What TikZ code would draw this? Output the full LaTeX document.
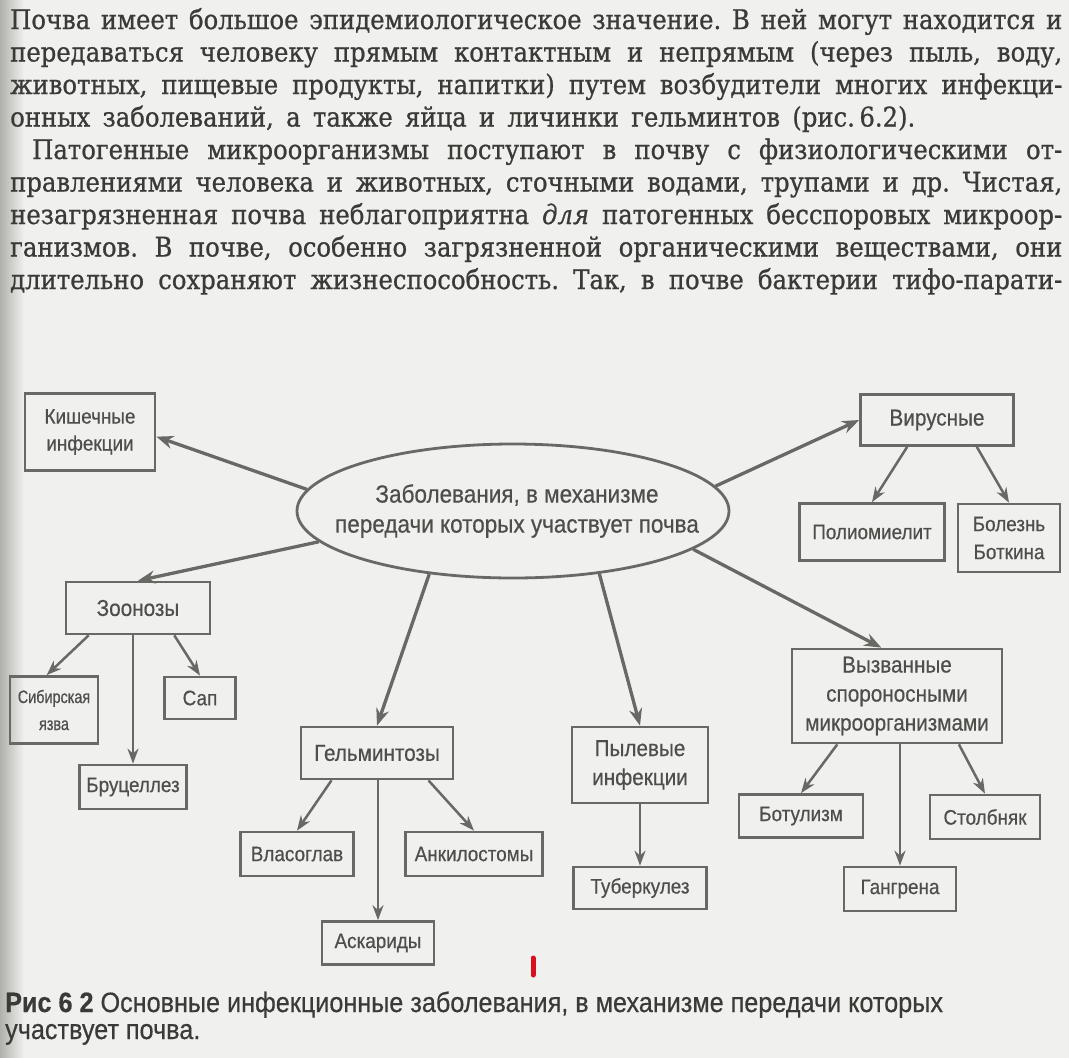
\documentclass[tikz,border=0pt]{standalone}
\usepackage{fontspec}
\setmainfont{DejaVu Serif}[FakeStretch=0.9,FakeBold=0.8]
\setsansfont{Liberation Sans}[FakeStretch=0.9,FakeBold=0.5]
\newfontfamily\nsans{Liberation Sans}[FakeStretch=0.8,FakeBold=0.5]
\usetikzlibrary{arrows.meta,shapes.geometric,calc}
\definecolor{bg}{HTML}{F0F0EE}
\definecolor{edge}{HTML}{B0B0AC}
\definecolor{ink}{HTML}{3A3A37}
\definecolor{dg}{HTML}{4E4E4A}
\definecolor{ln}{HTML}{686864}
\definecolor{redmark}{HTML}{D8101E}
\frenchspacing
\begin{document}
\begin{tikzpicture}[x=1pt,y=-1pt,
  box/.style={draw=ln,line width=2.7pt,inner sep=0pt,align=center,
    font=\sffamily\fontsize{21}{28}\selectfont,text=dg},
  bigbox/.style={box,font=\sffamily\fontsize{23}{29}\selectfont},
  arr/.style={draw=ln,line width=2.5pt,-{Stealth[length=15pt,width=11pt]}},
  arrb/.style={draw=ln,line width=3.3pt,-{Stealth[length=17pt,width=13pt]}},
  pline/.style={anchor=base west,inner sep=0pt,font=\fontsize{27}{30}\selectfont,text=ink}]
\fill[bg] (0,0) rectangle (1069,1058);
\shade[left color=edge,right color=bg] (0,0) rectangle (24,1058);
\useasboundingbox (0,0) rectangle (1069,1058);

% paragraph text
\node[pline] (t1) at (10,29) {\makebox[1052pt][s]{Почва имеет большое эпидемиологическое значение. В ней могут находится и}};
\node[pline] (t2) at (10,61.5) {\makebox[1052pt][s]{передаваться человеку прямым контактным и непрямым (через пыль, воду,}};
\node[pline] (t3) at (10,94) {\makebox[1052pt][s]{животных, пищевые продукты, напитки) путем возбудители многих инфекци-}};
\node[pline] (t4) at (10,126.5) {\makebox[905pt][s]{онных заболеваний, а также яйца и личинки гельминтов (рис.\,6.2).}};
\node[pline] (t5) at (32,159) {\makebox[1030pt][s]{Патогенные микроорганизмы поступают в почву с физиологическими от-}};
\node[pline] (t6) at (10,191.5) {\makebox[1052pt][s]{правлениями человека и животных, сточными водами, трупами и др. Чистая,}};
\node[pline] (t7) at (10,224) {\makebox[1052pt][s]{незагрязненная почва неблагоприятна \textit{для} патогенных бесспоровых микроор-}};
\node[pline] (t8) at (10,256.5) {\makebox[1052pt][s]{ганизмов. В почве, особенно загрязненной органическими веществами, они}};
\node[pline] (t9) at (10,289) {\makebox[1052pt][s]{длительно сохраняют жизнеспособность. Так, в почве бактерии тифо-парати-}};

% central ellipse
\node[draw=ln,line width=2.8pt,ellipse,minimum width=432pt,minimum height=134pt,inner sep=0pt] (ell) at (513,511) {};
\node[align=center,inner sep=0pt,font=\sffamily\fontsize{25}{30}\selectfont,text=dg] (elltext) at ([xshift=4pt]ell.center)
  {Заболевания, в механизме\\передачи которых участвует почва};

% boxes
\node[box,minimum width=130pt,minimum height=77pt,font=\sffamily\fontsize{21}{27}\selectfont] (kish) at (90,432) {Кишечные\\инфекции};
\node[bigbox,minimum width=153pt,minimum height=51pt] (vir) at (937,420) {Вирусные};
\node[box,minimum width=145pt,minimum height=57pt] (polio) at (872,532) {Полиомиелит};
\node[box,minimum width=102pt,minimum height=68pt] (botk) at (1009,538) {Болезнь\\Боткина};
\node[bigbox,minimum width=144pt,minimum height=52pt] (zoo) at (138,608) {Зоонозы};
\node[box,minimum width=88pt,minimum height=67pt,font=\nsans\fontsize{18}{27}\selectfont] (sib) at (54,710) {Сибирская\\язва};
\node[box,minimum width=71pt,minimum height=42pt] (sap) at (200,698) {Сап};
\node[box,minimum width=107pt,minimum height=44pt] (bruc) at (133,787) {Бруцеллез};
\node[bigbox,minimum width=152pt,minimum height=52pt] (gelm) at (377,753) {Гельминтозы};
\node[box,minimum width=113pt,minimum height=44pt] (vlas) at (297,854) {Власоглав};
\node[box,minimum width=137pt,minimum height=44pt] (ankil) at (474,854) {Анкилостомы};
\node[box,minimum width=112pt,minimum height=43pt] (askar) at (378,943) {Аскариды};
\node[bigbox,minimum width=136pt,minimum height=76pt] (pyl) at (640,765) {Пылевые\\инфекции};
\node[box,minimum width=133pt,minimum height=42pt] (tub) at (640,888) {Туберкулез};
\node[bigbox,minimum width=210pt,minimum height=94pt] (vyz) at (897,696) {Вызванные\\спороносными\\микроорганизмами};
\node[box,minimum width=124pt,minimum height=43pt] (botul) at (801,816) {Ботулизм};
\node[box,minimum width=110pt,minimum height=44pt] (stolb) at (985,817) {Столбняк};
\node[box,minimum width=112pt,minimum height=44pt] (gang) at (900,889) {Гангрена};

% connectors from the ellipse
\draw[arrb] (ell.174) -- (kish.-4);
\draw[arrb] (ell.-171) -- (zoo.north);
\draw[arrb] (ell.-143) -- (gelm.north);
\draw[arrb] (ell.-36) -- (pyl.north);
\draw[arrb] (ell.7) -- (vir.west);
\draw[arrb] (ell.-12) -- (vyz.108);

% second level
\draw[arr] (vir.-138) -- (polio.north);
\draw[arr] (vir.-34) -- (botk.north);
\draw[arr] (zoo.-151.6) -- (sib.102);
\draw[arr] (zoo.south -| bruc.north) -- (bruc.north);
\draw[arr] (zoo.-37) -- (sap.north);
\draw[arr] (gelm.-149) -- (vlas.north);
\draw[arr] (gelm.south -| askar.north) -- (askar.north);
\draw[arr] (gelm.-28) -- (ankil.north);
\draw[arr] (pyl.south) -- (tub.north);
\draw[arr] (vyz.-141) -- (botul.north);
\draw[arr] (vyz.south -| gang.north) -- (gang.north);
\draw[arr] (vyz.-38.5) -- (stolb.north);

% red mark
\coordinate (rm1) at (533,958);
\coordinate (rm2) at (533,975);
\draw[redmark,line width=5pt,line cap=round] (rm1) -- (rm2);

% caption
\node[anchor=base west,inner sep=0pt,align=left,font=\sffamily\fontsize{28}{27}\selectfont,text=ink] (cap) at (5,1039)
  {\textbf{Рис 6 2} Основные инфекционные заболевания, в механизме передачи которых\\участвует почва.};
\end{tikzpicture}
\end{document}
